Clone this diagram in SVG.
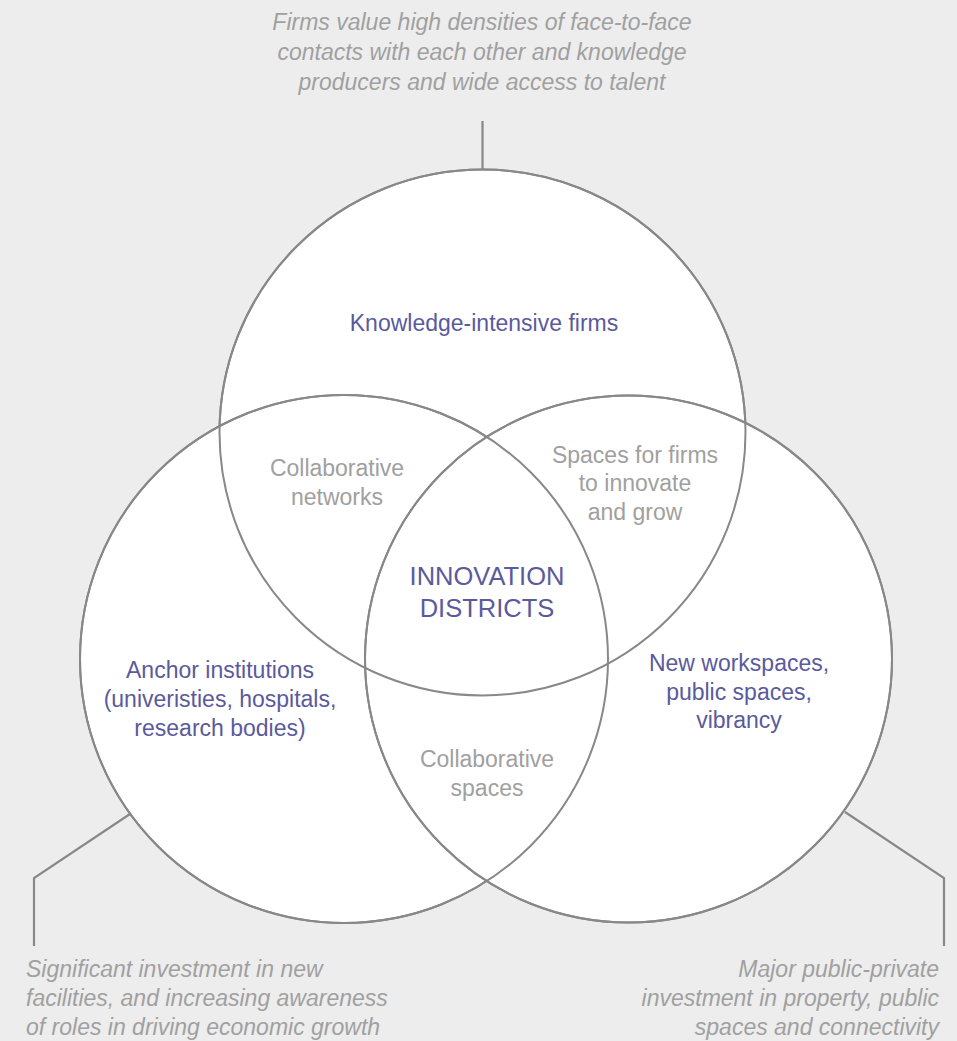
<svg xmlns="http://www.w3.org/2000/svg" width="957" height="1041" viewBox="0 0 957 1041">
<style>
.c{fill:#fff;stroke:#888;stroke-width:2}
.o{fill:none;stroke:#888;stroke-width:2}
.ln{fill:none;stroke:#888;stroke-width:2.2}
text{font-family:"Liberation Sans",Arial,sans-serif;font-size:23px}
.p{fill:#5a5a9c}
.g{fill:#a0a0a0}
.i{fill:#a0a0a0;font-style:italic;font-size:23px}
.big{font-size:25.5px}
</style>
<rect width="957" height="1041" fill="#ededed"/>
<g id="connectors">
<path class="ln" d="M482.5 121 V170"/>
<path class="ln" d="M34 946 V878 L133 812"/>
<path class="ln" d="M944 946 V878 L845 812"/>
</g>
<g id="circle-top"><circle class="c" cx="482.5" cy="432.5" r="263"/></g>
<g id="circle-left"><circle class="c" cx="344" cy="659" r="264"/></g>
<g id="circle-right"><circle class="c" cx="628.5" cy="659" r="263.5"/></g>
<g id="outlines">
<circle class="o" cx="482.5" cy="432.5" r="263"/>
<circle class="o" cx="344" cy="659" r="264"/>
<circle class="o" cx="628.5" cy="659" r="263.5"/>
</g>
<g id="label-top" text-anchor="middle">
<text class="i" x="482" y="30">Firms value high densities of face-to-face</text>
<text class="i" x="482" y="60">contacts with each other and knowledge</text>
<text class="i" x="482" y="90">producers and wide access to talent</text>
</g>
<g id="label-left">
<text class="i" x="26" y="977">Significant investment in new</text>
<text class="i" x="26" y="1006">facilities, and increasing awareness</text>
<text class="i" x="26" y="1035">of roles in driving economic growth</text>
</g>
<g id="label-right" text-anchor="end">
<text class="i" x="939" y="977">Major public-private</text>
<text class="i" x="939" y="1006">investment in property, public</text>
<text class="i" x="939" y="1035">spaces and connectivity</text>
</g>
<g id="node-firms" text-anchor="middle"><text class="p" x="484" y="331">Knowledge-intensive firms</text></g>
<g id="node-networks" text-anchor="middle">
<text class="g" x="337" y="476">Collaborative</text>
<text class="g" x="337" y="505">networks</text>
</g>
<g id="node-spaces-firms" text-anchor="middle">
<text class="g" x="635" y="463">Spaces for firms</text>
<text class="g" x="635" y="491">to innovate</text>
<text class="g" x="635" y="520">and grow</text>
</g>
<g id="node-center" text-anchor="middle">
<text class="p big" x="487" y="585">INNOVATION</text>
<text class="p big" x="487" y="617">DISTRICTS</text>
</g>
<g id="node-anchor" text-anchor="middle">
<text class="p" x="220" y="678">Anchor institutions</text>
<text class="p" x="220" y="707">(univeristies, hospitals,</text>
<text class="p" x="220" y="736">research bodies)</text>
</g>
<g id="node-workspaces" text-anchor="middle">
<text class="p" x="739" y="671">New workspaces,</text>
<text class="p" x="739" y="700">public spaces,</text>
<text class="p" x="739" y="728">vibrancy</text>
</g>
<g id="node-collab-spaces" text-anchor="middle">
<text class="g" x="487" y="767">Collaborative</text>
<text class="g" x="487" y="796">spaces</text>
</g>
</svg>
